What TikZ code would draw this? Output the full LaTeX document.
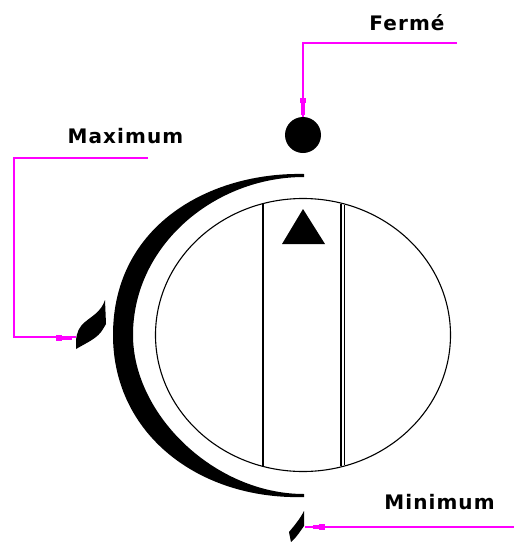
\documentclass[tikz,border=0pt]{standalone}
\usepackage{fontspec}
\setmainfont{DejaVu Sans}[LetterSpace=5.5]
\usepackage{xcolor}
\usepackage{tikz}
\definecolor{leadercol}{RGB}{255,0,255}
\tikzset{
    leader/.style={draw=leadercol, line width=1.3pt},
    stubwide/.style={draw=leadercol, line width=4pt},
    stubhead/.style={draw=leadercol, line width=6pt},
    caption/.style={font=\bfseries\fontsize{20}{20}\selectfont, inner sep=0pt},
    marker/.style={fill=black, draw=none},
}
\begin{document}
\begin{tikzpicture}[x=1pt, y=-1pt]
    \useasboundingbox (0,0) rectangle (514,542);
    % dial
    \draw[line width=1.1pt] (303,335) ellipse [x radius=147.5, y radius=136.5];
    \draw[line width=2.2pt] (263,204) -- (263,466);
    \draw[line width=1.1pt] (341,204) -- (341,466);
    \draw[line width=1.1pt] (344.5,205) -- (344.5,465);
    \fill[black] (303,209) -- (325,244) -- (282,244) -- cycle;
    % crescent
    \fill[marker] (304,174) .. controls (210,172) and (113,225) .. (113,335)
        .. controls (113,435) and (200,500) .. (304,497)
        -- (304,494) .. controls (215,494) and (133,415) .. (133,335)
        .. controls (133,245) and (215,177) .. (304,177) -- cycle;
    % marks
    \node[circle, fill=black, minimum size=36pt, inner sep=0pt] (closeddot) at (303,135) {};
    \fill[marker] (105,300) .. controls (101,312) and (92,316) .. (85,322)
        .. controls (79,327) and (77,332) .. (76,340) -- (76,349)
        .. controls (88,342) and (98,338) .. (103,329) -- (106,324) -- cycle;
    \fill[marker] (304,511) -- (304,526) .. controls (301,530) and (297,537) .. (291,542)
        -- (289,532) .. controls (294,526) and (300,519) .. (304,511) -- cycle;
    \coordinate (maxmark) at (76,337);
    \coordinate (minmark) at (305,527);
    % captions
    \node[caption] (closedtext) at (407,23) {Fermé};
    \node[caption] (maxtext) at (125.5,136) {Maximum};
    \node[caption] (mintext) at (439.5,502) {Minimum};
    % leaders
    \coordinate (closedend) at (457,43);
    \coordinate (maxend) at (148,158);
    \coordinate (minend) at (514,527);
    \draw[leader] (closedend) -| (closeddot.north);
    \draw[leader] (maxend) -- (14,158) |- (maxmark);
    \draw[leader] (minend) -- (minmark);
    \draw[stubhead] (303,98) -- (303,103);
    \draw[stubwide] (303,103) -- (303,115);
    \draw[stubhead] (56,337.5) -- (62,337.5);
    \draw[stubwide] (62,337.5) -- (72,337.5);
    \draw[stubhead] (319,527) -- (325,527);
    \draw[stubwide] (313,527) -- (319,527);
\end{tikzpicture}
\end{document}
